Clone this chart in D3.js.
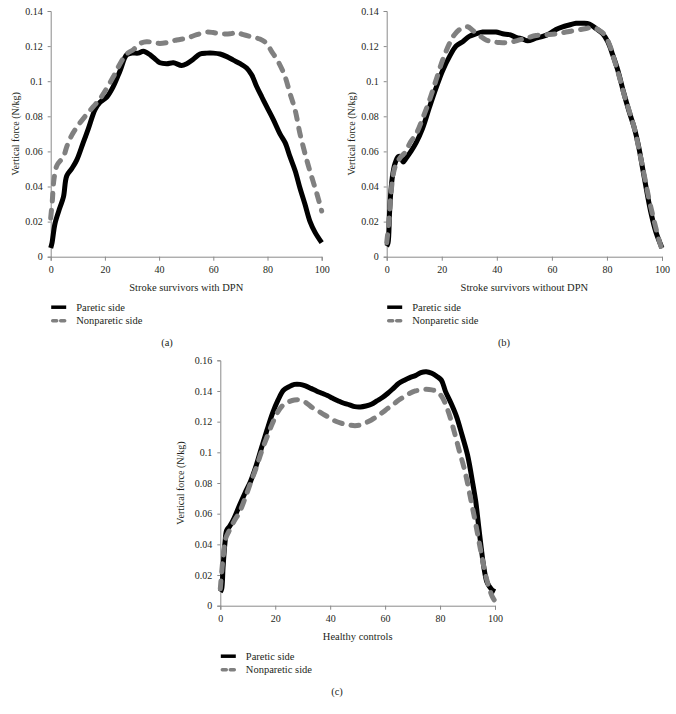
<!DOCTYPE html>
<html>
<head>
<meta charset="utf-8">
<script src="https://cdn.jsdelivr.net/npm/d3@7"></script>
<style>
  html, body { margin: 0; padding: 0; background: #fff; }
  svg { display: block; }
  text { font-family: "Liberation Serif", "DejaVu Serif", serif; fill: #231f20; }
</style>
</head>
<body>
<svg id="chart" width="676" height="714"></svg>
<script>
// ---------------- DATA ----------------
const xTicks = [0, 20, 40, 60, 80, 100];
const yTicksAB = [0, 0.02, 0.04, 0.06, 0.08, 0.1, 0.12, 0.14];
const yTicksC = [0, 0.02, 0.04, 0.06, 0.08, 0.1, 0.12, 0.14, 0.16];
const seriesNames = ["Paretic side", "Nonparetic side"];
const panelTitles = ["Stroke survivors with DPN", "Stroke survivors without DPN", "Healthy controls"];
const panelLabels = ["(a)", "(b)", "(c)"];
const yAxisTitle = "Vertical force (N/kg)";

// Panel (a): stroke survivors with DPN
const aParetic = [[0,0.005],[0.5,0.008],[1.6,0.019],[3.4,0.028],[4.7,0.034],[5.9,0.046],[7.7,0.050],[9.6,0.055],[12,0.065],[13.9,0.073],[16.4,0.084],[18.2,0.088],[20.7,0.091],[23.1,0.097],[25.6,0.106],[28,0.115],[30,0.116],[32.3,0.116],[34.2,0.117],[36.7,0.115],[39,0.112],[40.3,0.1105],[42.8,0.110],[45.3,0.1105],[48.3,0.109],[50.2,0.110],[52.6,0.1125],[55.1,0.1155],[57.6,0.116],[60,0.116],[62.5,0.1155],[65,0.114],[67.4,0.112],[69.9,0.110],[72.3,0.1075],[74.2,0.1035],[76,0.097],[77.9,0.091],[79.7,0.0855],[82.2,0.078],[84.6,0.070],[86.5,0.065],[88.3,0.057],[90.2,0.049],[92,0.039],[93.8,0.030],[95.7,0.020],[97.5,0.014],[100,0.008]];
const aNonparetic = [[0,0.022],[0.6,0.032],[1.2,0.044],[2.3,0.052],[4.7,0.057],[6,0.063],[7.7,0.069],[10.2,0.075],[12.7,0.080],[15.7,0.0855],[18.2,0.090],[20.7,0.096],[23.1,0.1025],[25.6,0.110],[28,0.1155],[30.5,0.118],[33,0.1215],[35.4,0.1225],[37.9,0.122],[40.3,0.1215],[42.8,0.122],[46.5,0.1235],[50.2,0.1245],[53.9,0.1265],[57.6,0.128],[60,0.1277],[62.5,0.127],[66.2,0.127],[68.6,0.1277],[71.1,0.1265],[74.8,0.125],[77.2,0.124],[79.7,0.1215],[81.5,0.117],[84,0.111],[86.5,0.1025],[88.3,0.093],[90.2,0.0835],[92,0.070],[94.5,0.055],[96.3,0.0455],[98.2,0.036],[100,0.026]];

// Panel (b): stroke survivors without DPN
const bParetic = [[0,0.006],[0.5,0.008],[1,0.024],[1.5,0.037],[2.2,0.047],[3,0.053],[4.2,0.057],[5,0.057],[6,0.054],[7,0.056],[8.8,0.060],[10.7,0.065],[13,0.073],[15.5,0.085],[17.9,0.096],[20.3,0.106],[22.8,0.114],[25.2,0.120],[27.6,0.1225],[30,0.1255],[32.4,0.127],[34.9,0.128],[37.3,0.128],[39.7,0.128],[42.1,0.127],[44.6,0.1265],[47,0.125],[49.4,0.124],[51.2,0.123],[54.2,0.1245],[56.7,0.1255],[59.1,0.127],[61.5,0.1295],[63.9,0.131],[66.3,0.132],[68.8,0.133],[71.2,0.133],[73.6,0.1326],[76,0.130],[78.5,0.127],[80.3,0.1225],[82.1,0.115],[84,0.106],[86,0.094],[88,0.083],[90,0.073],[91.5,0.063],[93,0.050],[94.5,0.037],[96,0.025],[97.8,0.014],[100,0.005]];
const bNonparetic = [[0,0.008],[0.8,0.020],[1.5,0.035],[2.5,0.048],[3.5,0.053],[5.2,0.057],[7,0.060],[8.5,0.065],[10.7,0.070],[13.1,0.079],[15.5,0.089],[17.9,0.1005],[20.3,0.112],[22.8,0.1215],[24.6,0.1265],[27,0.130],[29.4,0.131],[31.2,0.129],[33.7,0.126],[36.1,0.1235],[38.5,0.1225],[40.9,0.122],[43.3,0.122],[45.8,0.1225],[48.2,0.1235],[50.6,0.1245],[54.2,0.126],[57.9,0.1265],[61.5,0.127],[65.1,0.128],[68.8,0.129],[72.4,0.130],[74.8,0.1307],[77.2,0.129],[79.1,0.1265],[80.9,0.121],[82.7,0.112],[84.5,0.1025],[86.3,0.092],[88.1,0.083],[90,0.073],[91.8,0.060],[93.6,0.046],[95.4,0.032],[97.2,0.020],[99,0.009],[100,0.004]];

// Panel (c): healthy controls
const cParetic = [[0,0.009],[0.5,0.011],[1,0.025],[1.7,0.041],[2.3,0.049],[3.5,0.052],[5,0.057],[7,0.0655],[9,0.0735],[11,0.081],[13,0.091],[15,0.103],[17,0.1145],[19,0.1254],[21,0.134],[23,0.1405],[25,0.1428],[27,0.1443],[29,0.1443],[31,0.1433],[33,0.1417],[35,0.140],[37,0.1385],[39,0.137],[41,0.1352],[43,0.1335],[45,0.132],[47,0.131],[49,0.1298],[51,0.1296],[53,0.1302],[55,0.1313],[57,0.1335],[59,0.1357],[61,0.1385],[63,0.1417],[65,0.145],[67,0.147],[69,0.1487],[71,0.150],[73,0.152],[75,0.1526],[77,0.1515],[79,0.1493],[80.5,0.147],[82,0.1396],[84,0.132],[86,0.1233],[88,0.1113],[90,0.0983],[92,0.0787],[93,0.0678],[94,0.0526],[95,0.0374],[96,0.0243],[97,0.0157],[98,0.0124],[99,0.0102],[100,0.0091]];
const cNonparetic = [[0,0.011],[1,0.031],[2,0.044],[3,0.048],[5,0.055],[7,0.061],[9,0.070],[11,0.080],[13,0.0896],[15,0.1004],[17,0.110],[19,0.119],[21,0.1265],[23,0.131],[25,0.133],[27,0.1341],[29,0.1341],[31,0.1326],[33,0.1298],[35,0.1276],[37,0.1254],[39,0.1233],[41,0.1211],[43,0.1196],[45,0.1185],[47,0.1178],[49,0.1174],[51,0.1178],[53,0.1193],[55,0.1211],[57,0.1233],[59,0.1259],[61,0.1287],[63,0.1313],[65,0.1341],[67,0.1363],[69,0.1385],[71,0.140],[73,0.1407],[75,0.1411],[77,0.1407],[79,0.1396],[81,0.1352],[83,0.1265],[85,0.1145],[87,0.101],[89,0.088],[91,0.071],[93,0.053],[95,0.034],[97,0.017],[99,0.006],[100,0.003]];

// ---------------- LAYOUT ----------------
const panels = [
  { x0: 50.7,  x1: 321.7, yTop: 11,    yBot: 256.7, yMax: 0.14, yTicks: yTicksAB, ylabX: 15,  paretic: aParetic, nonparetic: aNonparetic, captionX: 167 },
  { x0: 386.7, x1: 662,   yTop: 11,    yBot: 256.7, yMax: 0.14, yTicks: yTicksAB, ylabX: 351, paretic: bParetic, nonparetic: bNonparetic, captionX: 504 },
  { x0: 220.3, x1: 495,   yTop: 360.3, yBot: 605.7, yMax: 0.16, yTicks: yTicksC,  ylabX: 180, paretic: cParetic, nonparetic: cNonparetic, captionX: 337 }
];

const axisColor = "#8a8a8a";
const grayColor = "#808080";
const svg = d3.select("#chart");
const fmt = v => String(+v.toFixed(2));

panels.forEach((p, i) => {
  const x = d3.scaleLinear().domain([0, 100]).range([p.x0, p.x1]);
  const y = d3.scaleLinear().domain([0, p.yMax]).range([p.yBot, p.yTop]);
  const g = svg.append("g");

  // y axis
  const ya = g.append("g").attr("transform", `translate(${p.x0},0)`)
    .call(d3.axisLeft(y).tickValues(p.yTicks).tickFormat(fmt).tickSize(3).tickPadding(5));
  // x axis
  const xa = g.append("g").attr("transform", `translate(0,${p.yBot})`)
    .call(d3.axisBottom(x).tickValues(xTicks).tickSize(4).tickPadding(5));
  [ya, xa].forEach(a => {
    a.select(".domain").attr("stroke", axisColor).attr("stroke-width", 1);
    a.selectAll(".tick line").attr("stroke", axisColor);
    a.selectAll(".tick text").attr("font-size", 10).attr("fill", "#231f20")
      .style("font-family", '"Liberation Serif", serif');
  });

  // y title
  g.append("text")
    .attr("transform", `translate(${p.ylabX},${(p.yTop + p.yBot) / 2}) rotate(-90)`)
    .attr("text-anchor", "middle").attr("dy", "0.35em")
    .attr("font-size", 10).text(yAxisTitle);
  // x title
  g.append("text")
    .attr("x", (p.x0 + p.x1) / 2).attr("y", p.yBot + 30.5)
    .attr("text-anchor", "middle").attr("dy", "0.35em")
    .attr("font-size", 10.5).text(panelTitles[i]);

  const line = d3.line().x(d => x(d[0])).y(d => y(d[1])).curve(d3.curveCatmullRom.alpha(0.5));

  g.append("path").datum(p.paretic).attr("d", line)
    .attr("fill", "none").attr("stroke", "#000").attr("stroke-width", 5)
    .attr("stroke-linejoin", "round").attr("stroke-linecap", "butt");
  g.append("path").datum(p.nonparetic).attr("d", line)
    .attr("fill", "none").attr("stroke", grayColor).attr("stroke-width", 5)
    .attr("stroke-dasharray", "8,9").attr("stroke-linecap", "round")
    .attr("stroke-linejoin", "round");

  // legend
  const lx = p.x0 + 0.5;
  const ly1 = p.yBot + 50.5, ly2 = ly1 + 13.5;
  g.append("line").attr("x1", lx).attr("x2", lx + 15).attr("y1", ly1).attr("y2", ly1)
    .attr("stroke", "#000").attr("stroke-width", 3.5);
  g.append("line").attr("x1", lx + 1.5).attr("x2", lx + 13.5).attr("y1", ly2).attr("y2", ly2)
    .attr("stroke", grayColor).attr("stroke-width", 3.5)
    .attr("stroke-dasharray", "4,4").attr("stroke-linecap", "round");
  g.append("text").attr("x", lx + 25).attr("y", ly1).attr("dy", "0.35em")
    .attr("font-size", 10.5).text(seriesNames[0]);
  g.append("text").attr("x", lx + 25).attr("y", ly2).attr("dy", "0.35em")
    .attr("font-size", 10.5).text(seriesNames[1]);

  // caption
  g.append("text").attr("x", p.captionX).attr("y", p.yBot + 85.5)
    .attr("text-anchor", "middle").attr("dy", "0.35em")
    .attr("font-size", 10.5).text(panelLabels[i]);
});
</script>
</body>
</html>
